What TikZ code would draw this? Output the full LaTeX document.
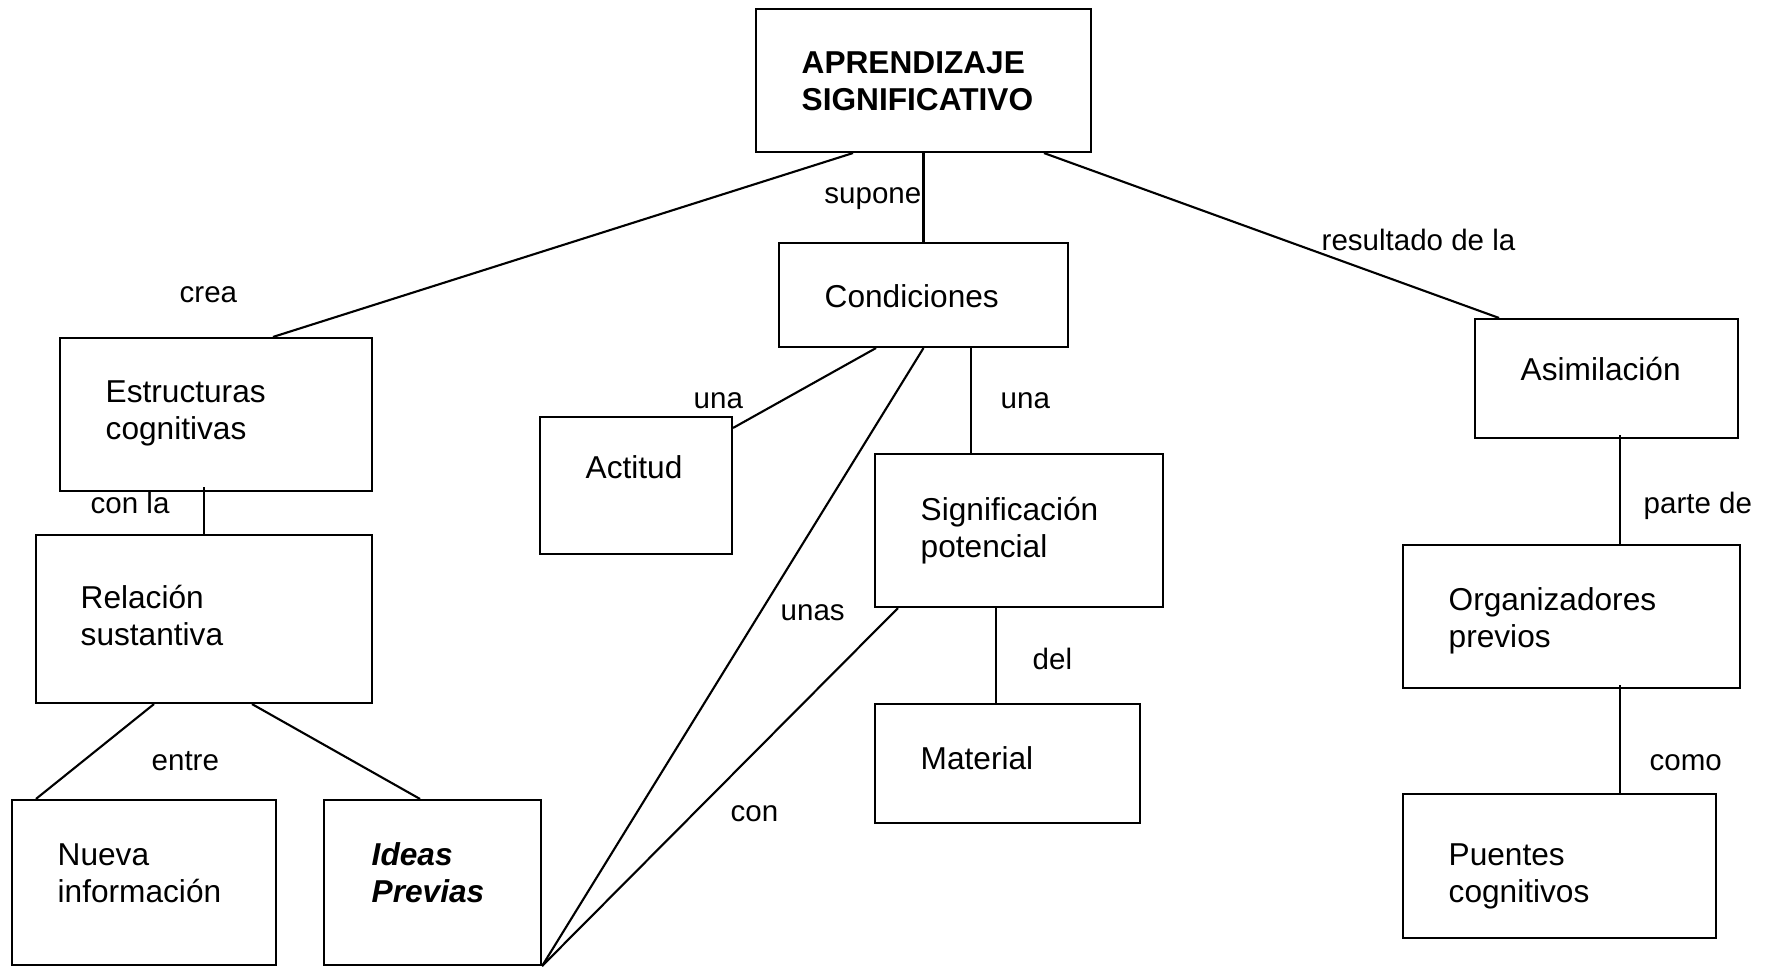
\documentclass[tikz,border=0pt]{standalone}
\usepackage{fontspec}
\setmainfont{Liberation Sans}
\usetikzlibrary{positioning,calc}

\begin{document}
\begin{tikzpicture}[x=1cm,y=1cm,font=\fontsize{9}{10.5}\selectfont,
   cbox/.style={rectangle,draw=black,line width=0.6pt,inner sep=0pt},
   ctext/.style={anchor=base west,align=left,inner sep=0pt},
   lbl/.style={anchor=base west,inner sep=0pt,font=\fontsize{8.4}{10}\selectfont},
   ln/.style={draw=black,line width=0.6pt}]

  \useasboundingbox (0,0) rectangle (17.66,-9.67);

  % concept boxes
  \node[cbox,minimum width=3.35cm,minimum height=1.43cm] (as) at (9.235,-0.805) {};
  \node[cbox,minimum width=2.89cm,minimum height=1.04cm] (cond) at (9.235,-2.95) {};
  \node[cbox,minimum width=3.12cm,minimum height=1.53cm] (estr) at (2.16,-4.145) {};
  \node[cbox,minimum width=3.36cm,minimum height=1.68cm] (rel) at (2.04,-6.19) {};
  \node[cbox,minimum width=2.64cm,minimum height=1.65cm] (nueva) at (1.44,-8.825) {};
  \node[cbox,minimum width=2.17cm,minimum height=1.65cm] (ideas) at (4.325,-8.825) {};
  \node[cbox,minimum width=1.92cm,minimum height=1.37cm] (act) at (6.36,-4.855) {};
  \node[cbox,minimum width=2.88cm,minimum height=1.53cm] (sig) at (10.19,-5.305) {};
  \node[cbox,minimum width=2.65cm,minimum height=1.19cm] (mat) at (10.075,-7.635) {};
  \node[cbox,minimum width=2.63cm,minimum height=1.19cm] (asim) at (16.065,-3.785) {};
  \node[cbox,minimum width=3.37cm,minimum height=1.43cm] (org) at (15.715,-6.165) {};
  \node[cbox,minimum width=3.13cm,minimum height=1.44cm] (pue) at (15.595,-8.66) {};

  % box texts (base = last line)
  \node[ctext,font=\fontsize{9}{10.5}\selectfont\bfseries] (as-t) at (8.01,-1.10) {APRENDIZAJE\\SIGNIFICATIVO};
  \node[ctext] (cond-t) at (8.24,-3.07) {Condiciones};
  \node[ctext] (estr-t) at (1.05,-4.39) {Estructuras\\cognitivas};
  \node[ctext] (rel-t) at (0.80,-6.45) {Relación\\sustantiva};
  \node[ctext] (nueva-t) at (0.57,-9.02) {Nueva\\información};
  \node[ctext,font=\fontsize{9}{10.5}\selectfont\bfseries\itshape] (ideas-t) at (3.71,-9.02) {Ideas\\Previas};
  \node[ctext] (act-t) at (5.85,-4.78) {Actitud};
  \node[ctext] (sig-t) at (9.20,-5.57) {Significación\\potencial};
  \node[ctext] (mat-t) at (9.20,-7.69) {Material};
  \node[ctext] (asim-t) at (15.20,-3.80) {Asimilación};
  \node[ctext] (org-t) at (14.48,-6.47) {Organizadores\\previos};
  \node[ctext] (pue-t) at (14.48,-9.02) {Puentes\\cognitivos};

  % connectors
  \draw[ln] ([xshift=-0.705cm]as.south) -- ([xshift=0.57cm]estr.north);
  \draw[ln] (as) -- (cond);
  \draw[ln] ([xshift=1.205cm]as.south) -- ([xshift=-1.075cm]asim.north);
  \draw[ln] ([xshift=-0.475cm]cond.south) -- ([yshift=-0.12cm]act.north east);
  \draw[ln] (cond.south) -- (ideas.south east);
  \draw[ln] ([xshift=0.475cm]cond.south) -- ([xshift=0.475cm]cond.south |- sig.north);
  \draw[ln] ([xshift=0.24cm]sig.south west) -- (ideas.south east);
  \draw[ln] ([xshift=-0.23cm]sig.south) -- ([xshift=-0.23cm]sig.south |- mat.north);
  \draw[ln] ([yshift=0.05cm]estr.south -| rel.north) -- (rel.north);
  \draw[ln] ([xshift=-0.5cm]rel.south) -- ([xshift=0.25cm]nueva.north west);
  \draw[ln] ([xshift=0.48cm]rel.south) -- ([xshift=-0.125cm]ideas.north);
  \draw[ln] ([xshift=0.135cm,yshift=0.04cm]asim.south) -- ([xshift=0.135cm]asim.south |- org.north);
  \draw[ln] ([xshift=0.485cm,yshift=0.04cm]org.south) -- ([xshift=0.485cm]org.south |- pue.north);

  % link words
  \node[lbl,anchor=base east] (l-supone) at (9.22,-2.03) {supone};
  \node[lbl] (l-crea) at (1.79,-3.02) {crea};
  \node[lbl] (l-result) at (13.21,-2.50) {resultado de la};
  \node[lbl] (l-una1) at (6.93,-4.08) {una};
  \node[lbl] (l-una2) at (10.00,-4.08) {una};
  \node[lbl] (l-unas) at (7.80,-6.20) {unas};
  \node[lbl] (l-con) at (7.30,-8.21) {con};
  \node[lbl] (l-del) at (10.32,-6.69) {del};
  \node[lbl] (l-conla) at (0.90,-5.13) {con la};
  \node[lbl] (l-entre) at (1.51,-7.70) {entre};
  \node[lbl] (l-parte) at (16.43,-5.13) {parte de};
  \node[lbl] (l-como) at (16.49,-7.70) {como};
\end{tikzpicture}
\end{document}
